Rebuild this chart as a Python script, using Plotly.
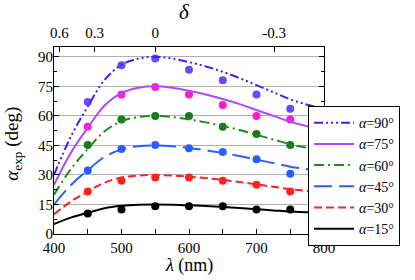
import plotly.graph_objects as go

lam_curve = [400, 425, 450, 475, 500, 525, 550, 575, 600, 625, 650, 675, 700, 725, 750, 775, 800]
lam_pts = [450, 500, 550, 600, 650, 700, 750]

curve_15 = [5.0, 8.3, 10.8, 13.1, 14.3, 14.9, 15.0, 14.9, 14.6, 14.2, 13.7, 13.2, 12.6, 12.0, 11.4, 11.0, 10.6]
curve_30 = [10.0, 16.5, 21.6, 26.1, 28.7, 29.7, 30.0, 29.7, 29.1, 28.4, 27.5, 26.4, 25.2, 24.0, 22.8, 21.9, 21.2]
curve_45 = [15.0, 24.8, 32.4, 39.2, 43.0, 44.6, 45.0, 44.6, 43.7, 42.5, 41.2, 39.6, 37.8, 36.0, 34.2, 32.9, 31.7]
curve_60 = [20.0, 33.0, 43.2, 52.2, 57.3, 59.4, 60.0, 59.4, 58.2, 56.7, 54.9, 52.8, 50.4, 48.0, 45.6, 43.8, 42.3]
curve_75 = [25.0, 41.3, 54.0, 65.3, 71.6, 74.3, 75.0, 74.3, 72.8, 70.9, 68.6, 66.0, 63.0, 60.0, 57.0, 54.8, 52.9]
curve_90 = [30.0, 49.5, 64.8, 78.3, 86.0, 89.1, 90.0, 89.1, 87.3, 85.1, 82.4, 79.2, 75.6, 72.0, 68.4, 65.7, 63.5]

pts_15 = [10.4, 12.4, 14.1, 14.1, 14.1, 12.4, 12.4]
pts_30 = [21.6, 27.0, 28.7, 28.7, 27.0, 25.0, 21.6]
pts_45 = [32.3, 43.2, 45.2, 43.6, 41.6, 38.0, 30.6]
pts_60 = [45.2, 58.2, 59.9, 59.9, 54.5, 50.8, 45.2]
pts_75 = [54.5, 70.9, 74.7, 70.9, 65.5, 59.9, 58.2]
pts_90 = [67.1, 85.7, 89.1, 83.5, 78.1, 70.9, 63.6]

delta_tick_lam = [408, 460, 550, 726]
delta_tick_text = ["0.6", "0.3", "0", "-0.3"]

series = [
    ("90", curve_90, pts_90, "#4020ff", "#6a48ff", "9px,3px,2px,3px,2px,3px,2px,3px"),
    ("75", curve_75, pts_75, "#b446ff", "#ff1ad2", "solid"),
    ("60", curve_60, pts_60, "#1e8a1e", "#1a7a1a", "10px,4px,2px,4px"),
    ("45", curve_45, pts_45, "#2262ff", "#2a5cff", "18px,7px"),
    ("30", curve_30, pts_30, "#ff2020", "#ff2020", "8px,4px"),
    ("15", curve_15, pts_15, "#000000", "#000000", "solid"),
]

FF = "Liberation Serif, DejaVu Serif, serif"

fig = go.Figure()
for name, cv, pv, lc, mc, dash in series:
    fig.add_trace(go.Scatter(x=lam_pts, y=pv, mode="markers",
                             marker=dict(color=mc, size=8), showlegend=False))
for name, cv, pv, lc, mc, dash in series:
    fig.add_trace(go.Scatter(x=lam_curve, y=cv, mode="lines", line_shape="spline",
                             line=dict(color=lc, width=2, dash=dash),
                             name="<i>α</i>=" + name + "°"))
fig.add_trace(go.Scatter(x=[400, 800], y=[None, None], xaxis="x2", showlegend=False,
                         mode="lines", hoverinfo="skip"))

fig.update_layout(
    width=415, height=280,
    margin=dict(l=54, r=91, t=47, b=46, autoexpand=False),
    paper_bgcolor="white", plot_bgcolor="white",
    font=dict(family=FF, size=15, color="black"),
    showlegend=True,
    legend=dict(x=0.941, y=0.684, xanchor="left", yanchor="top",
                bgcolor="white", bordercolor="black", borderwidth=1,
                font=dict(family=FF, size=14, color="black"), tracegroupgap=0,
                itemwidth=40),
    xaxis=dict(range=[400, 800], tickvals=[400, 500, 600, 700, 800],
               ticks="inside", ticklen=5, tickcolor="black", automargin=False,
               ticklabelstandoff=0,
               minor=dict(dtick=50, ticks="inside", ticklen=5, tickcolor="black"),
               showline=True, linecolor="black", linewidth=1, mirror=True,
               showgrid=False, zeroline=False,
               tickfont=dict(family=FF, size=15, color="black")),
    xaxis2=dict(range=[400, 800], overlaying="x", side="top", automargin=False,
                tickvals=delta_tick_lam, ticktext=delta_tick_text,
                ticks="inside", ticklen=5, tickcolor="black", ticklabelstandoff=5,
                showgrid=False, zeroline=False, showline=False,
                tickfont=dict(family=FF, size=15, color="black")),
    yaxis=dict(range=[0, 95], tickvals=[0, 15, 30, 45, 60, 75, 90], automargin=False,
               ticks="inside", ticklen=5, tickcolor="black", ticklabelstandoff=-3,
               minor=dict(dtick=7.5, ticks="inside", ticklen=3, tickcolor="black"),
               showline=True, linecolor="black", linewidth=1, mirror="ticks",
               showgrid=True, gridcolor="#b0b0b0", gridwidth=1, zeroline=False,
               tickfont=dict(family=FF, size=15, color="black")),
    annotations=[
        dict(text="<i>λ</i> (nm)", xref="paper", yref="paper", x=0.5, y=-0.166,
             xanchor="center", yanchor="middle", showarrow=False,
             font=dict(family=FF, size=18, color="black")),
        dict(text="<i>δ</i>", xref="paper", yref="paper", x=0.485, y=1.185,
             xanchor="center", yanchor="middle", showarrow=False,
             font=dict(family=FF, size=21, color="black")),
        dict(text="<i>α</i><sub>exp</sub> (deg)", xref="paper", yref="paper", x=-0.15, y=0.48,
             xanchor="center", yanchor="middle", showarrow=False, textangle=-90,
             font=dict(family=FF, size=19, color="black")),
    ],
)

fig.write_html("out.html", config={"displayModeBar": False},
               post_script="document.body.style.margin='0';document.body.style.padding='0';")
